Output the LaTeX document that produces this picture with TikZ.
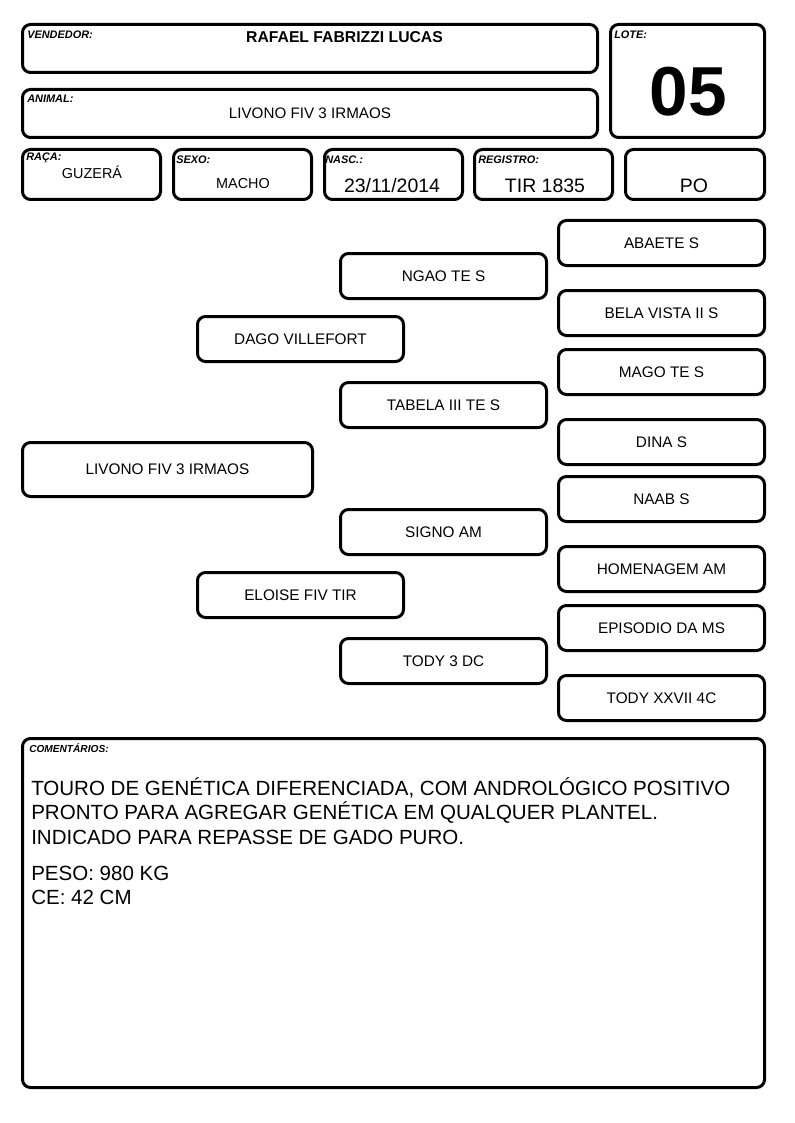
\documentclass[tikz,border=0pt]{standalone}
\usepackage{fontspec}
\setmainfont{Liberation Sans}
\begin{document}
\begin{tikzpicture}[x=0.75pt,y=-0.75pt,
  box/.style={draw, line width=2.25pt, rounded corners=6pt, inner sep=0pt},
  sz/.style 2 args={minimum width=#1*0.75pt, minimum height=#2*0.75pt},
  lbl/.style={anchor=west, inner sep=0pt, font=\fontsize{8.2pt}{9pt}\selectfont\bfseries\itshape},
  val/.style={inner sep=0pt, font=\fontsize{10.8pt}{12pt}\selectfont},
  bigval/.style={inner sep=0pt, font=\fontsize{14.6pt}{16pt}\selectfont},
  ped/.style={box, font=\fontsize{11.5pt}{13pt}\selectfont},
  g3/.style={ped, sz={206}{45}},
  g2/.style={ped, sz={206}{45}},
  g1/.style={ped, sz={206}{45}}]
\useasboundingbox (0,0) rectangle (794,1123);
% header boxes
\node[box, sz={575}{48}] (vend) at (310,48.5) {};
\node[box, sz={575}{48}] (anim) at (310,113.5) {};
\node[box, sz={154}{113}] (lote) at (687.5,81) {};
\node[box, sz={138}{50}] (raca) at (91.5,174.5) {};
\node[box, sz={138}{50}] (sexo) at (242.5,174.5) {};
\node[box, sz={138}{50}] (nasc) at (393.5,174.5) {};
\node[box, sz={138}{50}] (reg) at (543.5,174.5) {};
\node[box, sz={139}{50}] (po) at (695,174.5) {};
% labels
\node[lbl] (lvend) at (27,35) {VENDEDOR:};
\node[lbl] (lanim) at (27,99) {ANIMAL:};
\node[lbl] (llote) at (614,35) {LOTE:};
\node[lbl] (lraca) at (26,158) {RAÇA:};
\node[lbl] (lsexo) at (176,160) {SEXO:};
\node[lbl] (lnasc) at (325,160) {NASC.:};
\node[lbl] (lreg) at (478,160) {REGISTRO:};
% values
\node[inner sep=0pt, font=\fontsize{11.8pt}{13pt}\selectfont\bfseries] (tvend) at (344.5,37) {RAFAEL FABRIZZI LUCAS};
\node[val, font=\fontsize{11.4pt}{13pt}\selectfont] (tanim) at (310,113) {LIVONO FIV 3 IRMAOS};
\node[inner sep=0pt, font=\fontsize{52pt}{56pt}\selectfont\bfseries] (tlote) at (688,92) {05};
\node[val] (traca) at (92,172) {GUZERÁ};
\node[val] (tsexo) at (243,184) {MACHO};
\node[bigval] (tnasc) at (392,186) {23/11/2014};
\node[bigval] (treg) at (545,186) {TIR 1835};
\node[bigval] (tpo) at (694,186) {PO};
% pedigree
\node[ped, sz={290}{54}] (main) at (167.5,469.5) {LIVONO FIV 3 IRMAOS};
\node[g1] (p) at (300.5,339) {DAGO VILLEFORT};
\node[g1] (m) at (300.5,595) {ELOISE FIV TIR};
\node[g2] (pp) at (443.5,276) {NGAO TE S};
\node[g2] (pm) at (443.5,405) {TABELA III TE S};
\node[g2] (mp) at (443.5,532) {SIGNO AM};
\node[g2] (mm) at (443.5,661) {TODY 3 DC};
\node[g3] (ppp) at (661.5,243) {ABAETE S};
\node[g3] (ppm) at (661.5,313) {BELA VISTA II S};
\node[g3] (pmp) at (661.5,372) {MAGO TE S};
\node[g3] (pmm) at (661.5,442) {DINA S};
\node[g3] (mpp) at (661.5,499) {NAAB S};
\node[g3] (mpm) at (661.5,569) {HOMENAGEM AM};
\node[g3] (mmp) at (661.5,628) {EPISODIO DA MS};
\node[g3] (mmm) at (661.5,698) {TODY XXVII 4C};
% comments
\node[box, sz={742}{349}] (com) at (393.5,913) {};
\node[lbl, font=\fontsize{7.6pt}{9pt}\selectfont\bfseries\itshape] (lcom) at (29,748) {COMENTÁRIOS:};
\node[anchor=north west, inner sep=0pt, align=left, font=\fontsize{15.4pt}{18.4pt}\selectfont] (tcom) at (31,777) {TOURO DE GENÉTICA DIFERENCIADA, COM ANDROLÓGICO POSITIVO\\PRONTO PARA AGREGAR GENÉTICA EM QUALQUER PLANTEL.\\INDICADO PARA REPASSE DE GADO PURO.\\[8.6pt]PESO: 980 KG\\CE: 42 CM};
\end{tikzpicture}
\end{document}
